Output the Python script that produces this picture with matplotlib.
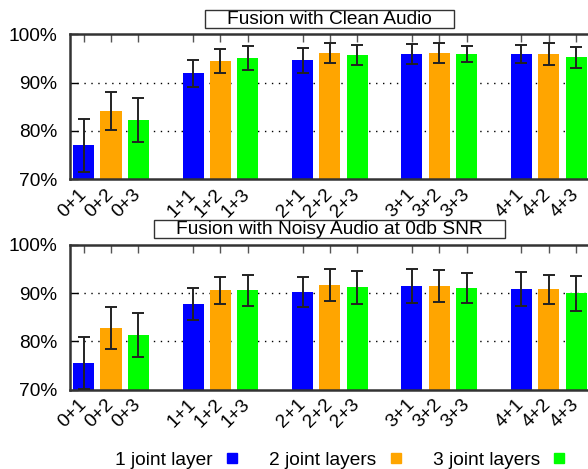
import numpy as np
import matplotlib.pyplot as plt
from matplotlib.lines import Line2D
from matplotlib.patches import Rectangle

plt.rcParams['font.family'] = ['Liberation Sans', 'DejaVu Sans']

# labels "encoder layers + joint layers"
labels = ['0+1', '0+2', '0+3', '1+1', '1+2', '1+3', '2+1', '2+2', '2+3',
          '3+1', '3+2', '3+3', '4+1', '4+2', '4+3']
series = ['1 joint layer', '2 joint layers', '3 joint layers']
colors = ['#0000ff', '#ffa500', '#00ff00']

# accuracy in %
clean_acc = [77.0, 84.1, 82.2, 91.9, 94.4, 95.0, 94.6, 96.1, 95.7,
             95.9, 96.1, 95.9, 95.9, 95.9, 95.2]
clean_err = [5.5, 4.0, 4.5, 2.8, 2.5, 2.5, 2.65, 2.05, 2.0,
             2.15, 2.1, 1.65, 1.8, 2.2, 2.25]
noisy_acc = [75.5, 82.8, 81.3, 87.7, 90.6, 90.6, 90.3, 91.7, 91.2,
             91.5, 91.5, 91.0, 90.8, 90.8, 90.0]
noisy_err = [5.4, 4.35, 4.6, 3.35, 2.8, 3.2, 3.1, 3.3, 3.4,
             3.45, 3.35, 3.1, 3.5, 3.05, 3.6]

panels = [('Fusion with Clean Audio', clean_acc, clean_err),
          ('Fusion with Noisy Audio at 0db SNR', noisy_acc, noisy_err)]

fs = 13.8
fig = plt.figure(figsize=(5.88, 4.69), dpi=100)
axes = [fig.add_axes([0.119, 0.618, 0.884, 0.309]),
        fig.add_axes([0.119, 0.169, 0.884, 0.309])]

# 4 slots per group: three bars plus one empty gap
xpos = np.array([4 * (i // 3) + i % 3 for i in range(len(labels))])

titles = []
for ax, (title, acc, err) in zip(axes, panels):
    for j in range(3):
        idx = np.arange(j, len(labels), 3)
        ax.bar(xpos[idx], np.array(acc)[idx], width=0.77, color=colors[j], zorder=2)
        ax.errorbar(xpos[idx], np.array(acc)[idx], yerr=np.array(err)[idx], fmt='none',
                    ecolor='#222222', elinewidth=1.4, capsize=4.5, capthick=1.4, zorder=3)
    ax.set_xlim(-0.5, 18.5)
    ax.set_ylim(70, 100)
    ax.set_yticks([70, 80, 90, 100])
    ax.set_yticklabels(['70%', '80%', '90%', '100%'], fontsize=fs)
    for y in [80, 90]:
        ax.axhline(y, color='black', lw=1, ls=(0, (1, 4)), zorder=1)
    ax.set_xticks(xpos)
    ax.set_xticklabels(labels, fontsize=fs, rotation=45, ha='right', va='center',
                       rotation_mode='anchor')
    ax.tick_params(axis='x', direction='in', top=True, bottom=True, length=6,
                   width=1, color='#555555', pad=9)
    ax.tick_params(axis='y', direction='in', length=6, width=1, pad=9)
    for s in ['left', 'top', 'bottom']:
        ax.spines[s].set_linewidth(1.8)
        ax.spines[s].set_color('#333333')
    ax.spines['right'].set_visible(False)
    t = ax.text(0.5, 1.105, title, transform=ax.transAxes, ha='center', va='center',
                fontsize=fs)
    titles.append(t)

# boxes round the panel titles, wider than tall like gnuplot's
fig.canvas.draw()
rend = fig.canvas.get_renderer()
for t in titles:
    bb = t.get_window_extent(rend).transformed(fig.transFigure.inverted())
    px = 22 / 588
    top = bb.y1 + 1 / 469
    bot = bb.y0 + 0 / 469
    fig.add_artist(Rectangle((bb.x0 - px, bot), bb.width + 2 * px, top - bot,
                             transform=fig.transFigure, fill=False, ec='#333333', lw=1))

handles = [Line2D([], [], marker='s', ls='none', color=c, markersize=7.5) for c in colors]
fig.legend(handles, series, loc='center', bbox_to_anchor=(341 / 588, 9 / 469), ncol=3,
           frameon=False, markerfirst=False, fontsize=fs, handlelength=0.8,
           handletextpad=0.6, columnspacing=1.55, borderpad=0, borderaxespad=0)

fig.savefig('out.png', dpi=100)
